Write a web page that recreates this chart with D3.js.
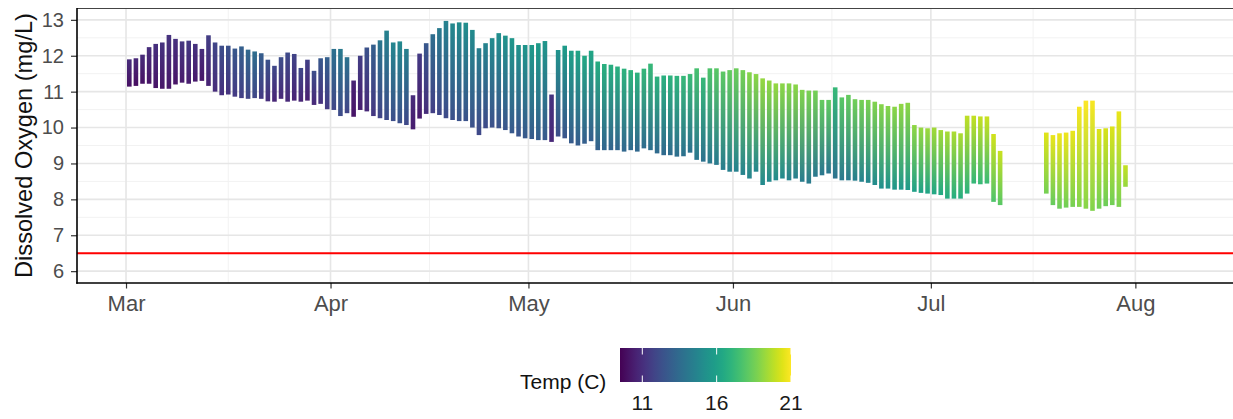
<!DOCTYPE html>
<html><head><meta charset="utf-8">
<script src="https://cdn.jsdelivr.net/npm/d3@7"></script>
<style>
html,body{margin:0;padding:0;background:#fff;}
svg{display:block;font-family:"Liberation Sans", Arial, Helvetica, sans-serif;}
</style></head><body>
<svg id="chart" width="1233" height="419"></svg>
<script>
// ---------------- DATA ----------------
// Segment 1: one entry per day starting 1 March
const seg1Start = "2021-03-01";
const doMax1 = [
 11.90, 11.93, 12.03, 12.24, 12.33, 12.37, 12.58, 12.47, 12.40, 12.42,
 12.33, 12.19, 12.57, 12.37, 12.28, 12.28, 12.20, 12.26, 12.17, 12.12,
 12.07, 11.89, 11.72, 11.96, 12.09, 12.05, 11.66, 11.89, 11.58, 11.93,
 11.96, 12.19, 12.19, 11.96, 11.31, 12.00, 12.23, 12.31, 12.43, 12.70,
 12.37, 12.40, 12.19, 10.90, 12.06, 12.35, 12.60, 12.77, 12.97, 12.90,
 12.93, 12.92, 12.72, 12.21, 12.35, 12.49, 12.63, 12.56, 12.49, 12.30,
 12.30, 12.30, 12.35, 12.41, 10.92, 12.16, 12.28, 12.14, 12.14, 12.00,
 12.14, 11.84, 11.77, 11.75, 11.70, 11.64, 11.60, 11.53, 11.64, 11.78,
 11.42, 11.45, 11.45, 11.44, 11.44, 11.49, 11.65, 11.39, 11.65, 11.65,
 11.56, 11.60, 11.65, 11.60, 11.54, 11.49, 11.37, 11.31, 11.23, 11.23,
 11.23, 11.20, 11.05, 11.03, 11.03, 10.77, 10.77, 11.12, 10.84, 10.91,
 10.79, 10.77, 10.77, 10.72, 10.65, 10.60, 10.58, 10.66, 10.69, 10.07,
 10.00, 9.98, 10.00, 9.93, 9.89, 9.89, 9.84, 10.33, 10.33, 10.31,
 10.31, 9.82, 9.35];
const doMin1 = [
 11.14, 11.16, 11.22, 11.22, 11.10, 11.08, 11.08, 11.20, 11.25, 11.22,
 11.28, 11.30, 11.16, 11.00, 10.90, 10.92, 10.86, 10.82, 10.80, 10.82,
 10.80, 10.73, 10.72, 10.80, 10.72, 10.75, 10.72, 10.75, 10.63, 10.66,
 10.51, 10.49, 10.32, 10.40, 10.30, 10.49, 10.45, 10.32, 10.26, 10.21,
 10.18, 10.12, 10.07, 9.95, 10.25, 10.38, 10.40, 10.35, 10.26, 10.21,
 10.18, 10.18, 10.00, 9.79, 9.98, 10.00, 9.98, 9.93, 9.84, 9.75,
 9.70, 9.68, 9.65, 9.65, 9.60, 9.75, 9.70, 9.56, 9.50, 9.55,
 9.62, 9.37, 9.37, 9.37, 9.37, 9.33, 9.37, 9.33, 9.42, 9.37,
 9.28, 9.23, 9.23, 9.19, 9.20, 9.30, 9.10, 9.05, 9.00, 8.96,
 8.82, 8.77, 8.77, 8.68, 8.58, 8.77, 8.40, 8.49, 8.53, 8.58,
 8.53, 8.58, 8.49, 8.44, 8.63, 8.67, 8.72, 8.58, 8.53, 8.53,
 8.52, 8.49, 8.46, 8.40, 8.30, 8.30, 8.27, 8.27, 8.26, 8.21,
 8.18, 8.16, 8.14, 8.12, 8.02, 8.02, 8.02, 8.16, 8.44, 8.42,
 8.44, 7.93, 7.84];
// temperature at the daily DO low / DO high (deg C)
const tempLow1 = [
 10.0, 9.9, 10.0, 10.1, 10.1, 10.2, 10.2, 10.1, 10.3, 10.4,
 10.3, 10.2, 10.6, 10.9, 11.1, 11.2, 11.4, 11.6, 11.8, 11.9,
 11.4, 11.0, 10.7, 10.8, 10.8, 10.6, 10.7, 10.5, 10.8, 11.1,
 11.4, 11.9, 12.1, 11.8, 10.1, 10.4, 10.8, 11.3, 11.8, 12.1,
 12.2, 12.3, 12.0, 10.4, 10.3, 10.9, 11.6, 11.9, 12.1, 12.3,
 12.4, 12.4, 12.3, 12.0, 12.1, 12.3, 12.4, 12.5, 12.6, 12.5,
 12.6, 12.7, 12.8, 12.6, 10.8, 12.2, 12.5, 12.7, 12.8, 12.9,
 12.9, 13.0, 13.2, 13.1, 13.2, 13.3, 13.4, 13.3, 13.5, 13.6,
 13.4, 13.4, 13.5, 13.6, 13.7, 13.8, 14.0, 13.8, 14.1, 14.2,
 14.3, 14.4, 14.5, 14.6, 14.7, 14.8, 14.9, 14.9, 15.0, 14.9,
 14.5, 14.4, 14.3, 14.2, 14.1, 14.0, 14.0, 13.9, 14.1, 14.2,
 14.4, 14.6, 14.8, 15.0, 15.2, 15.4, 15.5, 15.6, 15.7, 16.0,
 16.1, 16.2, 16.3, 16.4, 16.5, 16.6, 16.6, 16.9, 17.1, 17.2,
 17.3, 17.8, 18.0];
const tempHigh1 = [
 10.9, 10.8, 10.9, 11.0, 11.1, 11.2, 11.2, 11.1, 11.3, 11.4,
 11.2, 11.0, 11.6, 11.9, 12.2, 12.4, 12.6, 13.0, 13.4, 13.6,
 12.9, 12.4, 12.0, 12.2, 12.1, 11.8, 12.0, 11.7, 12.2, 12.6,
 13.0, 13.8, 14.2, 13.9, 10.6, 11.6, 12.4, 13.0, 14.0, 14.6,
 14.8, 14.9, 14.5, 10.9, 11.5, 12.6, 13.6, 14.2, 14.6, 14.9,
 15.0, 15.2, 15.0, 14.4, 14.7, 15.0, 15.2, 15.4, 15.6, 15.4,
 15.5, 15.7, 15.8, 15.6, 11.2, 15.4, 15.8, 16.0, 16.2, 16.4,
 16.3, 16.6, 16.8, 16.7, 16.8, 16.9, 17.0, 16.9, 17.1, 17.2,
 16.9, 16.8, 16.9, 17.0, 17.2, 17.3, 17.6, 17.2, 17.8, 18.0,
 18.1, 18.3, 18.4, 18.6, 18.9, 19.0, 19.2, 19.1, 19.2, 19.0,
 18.9, 19.0, 18.8, 18.7, 18.6, 18.3, 18.2, 17.2, 18.0, 18.3,
 18.5, 18.6, 18.7, 18.8, 18.9, 18.9, 19.0, 19.1, 19.0, 19.1,
 19.2, 19.3, 19.4, 19.4, 19.5, 19.6, 19.6, 19.9, 20.0, 20.0,
 20.1, 20.2, 20.1];

// Segment 2: one entry per day starting 18 July
const seg2Start = "2021-07-18";
const doMax2 = [9.86, 9.79, 9.84, 9.86, 9.91, 10.58, 10.75, 10.75, 9.96, 9.98, 10.03, 10.45, 8.95];
const doMin2 = [8.16, 7.84, 7.74, 7.77, 7.79, 7.79, 7.74, 7.68, 7.74, 7.81, 7.84, 7.79, 8.35];
const tempLow2 = [18.6, 18.3, 18.4, 18.5, 18.6, 18.8, 18.9, 18.8, 18.5, 18.4, 18.5, 18.7, 19.2];
const tempHigh2 = [20.5, 20.6, 20.7, 20.7, 20.6, 20.9, 21.0, 20.9, 20.4, 20.3, 20.4, 20.6, 20.0];

const threshold = 6.5;
const yTicks = [6, 7, 8, 9, 10, 11, 12, 13];
const xTickMonths = ["2021-03-01", "2021-04-01", "2021-05-01", "2021-06-01", "2021-07-01", "2021-08-01"];
const legendTicks = [11, 16, 21];
const tempRange = [9.5, 21.0];

// ---------------- CHART ----------------
const svg = d3.select("#chart");
const P = {left: 77, right: 1233, top: 8, bottom: 283};
const parse = d3.utcParse("%Y-%m-%d");

const x = d3.scaleUtc()
  .domain([Date.UTC(2021, 1, 21, 13, 40), Date.UTC(2021, 7, 15, 19, 10)])
  .range([P.left, P.right]);
const y = d3.scaleLinear().domain([5.67, 13.33]).range([P.bottom, P.top]);
const color = d3.scaleSequential(d3.interpolateViridis).domain(tempRange);

const defs = svg.append("defs");

// grid
const grid = svg.append("g");
const majorY = yTicks;
const minorY = d3.range(5.5, 13.6, 1).filter(v => v > 5.67 && v < 13.33);
const monthDates = xTickMonths.map(parse);
const minorX = [];
for (let i = 0; i < monthDates.length - 1; i++) {
  minorX.push(new Date((+monthDates[i] + +monthDates[i + 1]) / 2));
}
grid.selectAll(".ymin").data(minorY).join("line")
  .attr("x1", P.left).attr("x2", P.right)
  .attr("y1", d => y(d)).attr("y2", d => y(d))
  .attr("stroke", "#f2f2f2").attr("stroke-width", 1);
grid.selectAll(".xmin").data(minorX).join("line")
  .attr("x1", d => x(d)).attr("x2", d => x(d))
  .attr("y1", P.top).attr("y2", P.bottom)
  .attr("stroke", "#f2f2f2").attr("stroke-width", 1);
grid.selectAll(".ymaj").data(majorY).join("line")
  .attr("x1", P.left).attr("x2", P.right)
  .attr("y1", d => y(d)).attr("y2", d => y(d))
  .attr("stroke", "#e6e6e6").attr("stroke-width", 1.6);
grid.selectAll(".xmaj").data(monthDates).join("line")
  .attr("x1", d => x(d)).attr("x2", d => x(d))
  .attr("y1", P.top).attr("y2", P.bottom)
  .attr("stroke", "#e6e6e6").attr("stroke-width", 1.6);

// threshold line
svg.append("line")
  .attr("x1", P.left).attr("x2", P.right)
  .attr("y1", y(threshold)).attr("y2", y(threshold))
  .attr("stroke", "#ff0000").attr("stroke-width", 2);

// daily DO bars
function buildDays(start, mx, mn, tl, th) {
  const s = parse(start);
  return mx.map((v, i) => ({
    t: d3.utcHour.offset(d3.utcDay.offset(s, i), 12),
    max: v, min: mn[i], tLow: tl[i], tHigh: th[i]
  }));
}
const days = buildDays(seg1Start, doMax1, doMin1, tempLow1, tempHigh1)
  .concat(buildDays(seg2Start, doMax2, doMin2, tempLow2, tempHigh2));

days.forEach((d, i) => {
  const g = defs.append("linearGradient")
    .attr("id", "gd" + i)
    .attr("gradientUnits", "userSpaceOnUse")
    .attr("x1", x(d.t)).attr("x2", x(d.t))
    .attr("y1", y(d.min)).attr("y2", y(d.max));
  g.append("stop").attr("offset", 0).attr("stop-color", color(d.tLow));
  g.append("stop").attr("offset", 1).attr("stop-color", color(d.tHigh));
});
svg.append("g").selectAll("line").data(days).join("line")
  .attr("x1", d => x(d.t)).attr("x2", d => x(d.t))
  .attr("y1", d => y(d.min)).attr("y2", d => y(d.max))
  .attr("stroke", (d, i) => `url(#gd${i})`)
  .attr("stroke-width", 4.6)
  .attr("stroke-linecap", "butt");

// panel top border
svg.append("line").attr("x1", P.left).attr("x2", P.right)
  .attr("y1", P.top + 0.5).attr("y2", P.top + 0.5)
  .attr("stroke", "#444").attr("stroke-width", 1.2);

// axes
const yAxis = svg.append("g").attr("transform", `translate(${P.left},0)`)
  .call(d3.axisLeft(y).tickValues(yTicks).tickSize(6).tickPadding(7).tickFormat(d3.format("d")));
yAxis.select(".domain").remove();
yAxis.selectAll(".tick line").attr("stroke", "#333").attr("stroke-width", 1.2);
yAxis.selectAll(".tick text").attr("fill", "#4d4d4d").style("font-size", "20px")
  .style("font-family", '"Liberation Sans", Arial, sans-serif');

const xAxis = svg.append("g").attr("transform", `translate(0,${P.bottom})`)
  .call(d3.axisBottom(x).tickValues(monthDates).tickSize(5.5).tickPadding(6.5).tickFormat(d3.utcFormat("%b")));
xAxis.select(".domain").remove();
xAxis.selectAll(".tick line").attr("stroke", "#333").attr("stroke-width", 1.2);
xAxis.selectAll(".tick text").attr("fill", "#4d4d4d").style("font-size", "22px")
  .style("font-family", '"Liberation Sans", Arial, sans-serif');

svg.append("line").attr("x1", P.left).attr("x2", P.left)
  .attr("y1", P.top).attr("y2", P.bottom + 0.75)
  .attr("stroke", "#000").attr("stroke-width", 1.6);
svg.append("line").attr("x1", P.left - 0.75).attr("x2", P.right)
  .attr("y1", P.bottom).attr("y2", P.bottom)
  .attr("stroke", "#000").attr("stroke-width", 1.6);

// y title
svg.append("text")
  .attr("transform", `translate(31.5,${(P.top + P.bottom) / 2}) rotate(-90)`)
  .attr("text-anchor", "middle")
  .style("font-size", "23.6px").attr("fill", "#111")
  .text("Dissolved Oxygen (mg/L)");

// legend
const L = {x0: 620, x1: 791, y0: 348, y1: 382};
const lx = d3.scaleLinear().domain(tempRange).range([L.x0, L.x1]);
const lg = defs.append("linearGradient").attr("id", "legendGrad")
  .attr("x1", "0%").attr("x2", "100%").attr("y1", "0%").attr("y2", "0%");
d3.range(0, 1.0001, 0.05).forEach(f => {
  lg.append("stop").attr("offset", f).attr("stop-color", color(tempRange[0] + f * (tempRange[1] - tempRange[0])));
});
svg.append("rect").attr("x", L.x0).attr("y", L.y0)
  .attr("width", L.x1 - L.x0).attr("height", L.y1 - L.y0)
  .attr("fill", "url(#legendGrad)");
const lt = svg.append("g");
lt.selectAll(".tt").data(legendTicks).join("line")
  .attr("x1", d => lx(d)).attr("x2", d => lx(d))
  .attr("y1", L.y0).attr("y2", L.y0 + 6.5)
  .attr("stroke", "#fff").attr("stroke-width", 1);
lt.selectAll(".tb").data(legendTicks).join("line")
  .attr("x1", d => lx(d)).attr("x2", d => lx(d))
  .attr("y1", L.y1 - 6.5).attr("y2", L.y1)
  .attr("stroke", "#fff").attr("stroke-width", 1);
lt.selectAll("text").data(legendTicks).join("text")
  .attr("x", d => lx(d)).attr("y", 410)
  .attr("text-anchor", "middle")
  .style("font-size", "21px").attr("fill", "#1a1a1a")
  .text(d => d);
svg.append("text").attr("x", 520).attr("y", 389)
  .style("font-size", "21px").attr("fill", "#111")
  .text("Temp (C)");
</script>
</body></html>
